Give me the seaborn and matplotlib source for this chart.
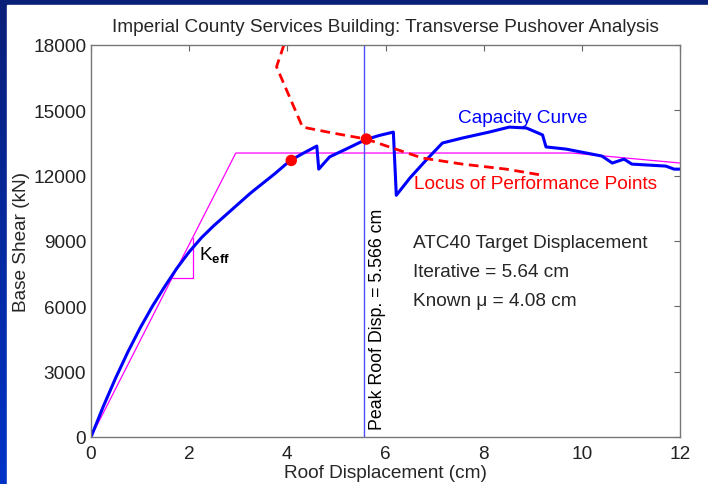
import numpy as np
import pandas as pd
import matplotlib
matplotlib.use("Agg")
import matplotlib.pyplot as plt
from matplotlib.patches import Rectangle
import seaborn as sns

# capacity (pushover) curve
cap_x = [0, 0.25, 0.5, 0.75, 1.0, 1.25, 1.5, 1.75, 2.0, 2.25, 2.5, 2.75, 3.0, 3.25,
         3.5, 3.75, 4.05, 4.3, 4.6, 4.64, 4.86, 5.27, 5.6, 5.88, 6.16, 6.22, 6.5,
         6.83, 7.16, 7.57, 8.11, 8.52, 8.87, 9.2, 9.27, 9.68, 10.09, 10.41, 10.62,
         10.86, 11.02, 11.71, 11.88, 12.0]
cap_y = [0, 1400, 2700, 3900, 5000, 6000, 6900, 7750, 8500, 9150, 9700, 10200, 10700, 11200,
         11650, 12100, 12680, 13000, 13360, 12300, 12860, 13300, 13660, 13850, 14000, 11100, 11900,
         12720, 13500, 13730, 14000, 14230, 14190, 13870, 13320, 13220, 13040, 12900, 12580,
         12760, 12530, 12440, 12300, 12300]

# locus of performance points
locus_x = [3.93, 3.78, 4.31, 4.92, 5.61, 6.14, 6.75, 7.57, 8.46, 9.17]
locus_y = [18000, 17000, 14230, 13960, 13680, 13270, 12810, 12530, 12300, 12030]

# bilinear idealisation and K_eff slope triangle
bil_x = [0, 2.95, 9.8, 12]
bil_y = [0, 13040, 13040, 12580]
tri_x = [1.65, 2.07, 2.07]
tri_y = [7300, 7300, 9150]

# performance points
pp_x = [4.08, 5.61]
pp_y = [12700, 13680]

peak_disp = 5.566

sns.set_theme(style="white")
plt.rcParams['font.family'] = ['Liberation Sans', 'DejaVu Sans']
plt.rcParams['mathtext.fontset'] = 'custom'
plt.rcParams['mathtext.rm'] = 'Liberation Sans'
plt.rcParams['mathtext.it'] = 'Liberation Sans:italic'
plt.rcParams['mathtext.bf'] = 'Liberation Sans:bold'

fs = 13.7

fig = plt.figure(figsize=(7.08, 4.85), dpi=100)

# slide-like background
bg = fig.add_axes([0, 0, 1, 1])
grad = np.linspace(0, 1, 256).reshape(-1, 1)
bg.imshow(grad, aspect='auto', extent=[0, 1, 0, 1],
          cmap=matplotlib.colors.LinearSegmentedColormap.from_list('bg', ['#0033c8', '#0a1f78']),
          origin='lower')
bg.add_patch(Rectangle((7 / 708, 0), 1, 1 - 6 / 485, color='white'))
bg.set_xlim(0, 1)
bg.set_ylim(0, 1)
bg.axis('off')

ax = fig.add_axes([91 / 708, (485 - 438) / 485, 589 / 708, 392 / 485])

sns.lineplot(x=bil_x, y=bil_y, sort=False, estimator=None, color='#ff00ff', lw=0.9, ax=ax)
sns.lineplot(x=tri_x, y=tri_y, sort=False, estimator=None, color='#ff00ff', lw=0.9, ax=ax)
ax.axvline(peak_disp, color='#4d4dff', lw=1.0)
sns.lineplot(x=cap_x, y=cap_y, sort=False, estimator=None, color='#0000ff', lw=2.2, ax=ax)
sns.lineplot(x=locus_x, y=locus_y, sort=False, estimator=None, color='#ff0000', lw=2.0, ax=ax)
ax.lines[-1].set_dashes((3.5, 2))
sns.scatterplot(x=pp_x, y=pp_y, color='#ff0000', s=68, edgecolor='none', zorder=5, ax=ax)

ax.set_xlim(0, 12)
ax.set_ylim(0, 18000)
ax.set_xticks(range(0, 13, 2))
ax.set_yticks(range(0, 18001, 3000))
ax.tick_params(direction='in', length=4, width=0.8, top=True, right=True,
               labelsize=fs, colors='#222222', color='#666666')
ax.tick_params(axis='x', pad=5.5)
ax.tick_params(axis='y', pad=3.5)
for s in ax.spines.values():
    s.set_color('#777777')
    s.set_linewidth(1.0)
ax.set_xlabel('Roof Displacement (cm)', fontsize=fs, labelpad=2)
ax.set_ylabel('Base Shear (kN)', fontsize=fs, labelpad=2)
ax.set_title('Imperial County Services Building: Transverse Pushover Analysis',
             fontsize=fs, pad=10)

ax.text(peak_disp + 0.1, 370, 'Peak Roof Disp. = 5.566 cm', rotation=90,
        ha='left', va='bottom', fontsize=12.8, color='black')
ax.text(7.48, 14690, 'Capacity Curve', color='#0000ff', fontsize=fs, va='center')
ax.text(6.59, 11620, 'Locus of Performance Points', color='#ff0000', fontsize=fs, va='center')
ax.text(2.2, 8170, r'K$_{\mathbf{eff}}$', color='black', fontsize=fs, va='baseline')
ax.text(6.57, 8950, 'ATC40 Target Displacement', fontsize=fs, va='center')
ax.text(6.57, 7620, 'Iterative = 5.64 cm', fontsize=fs, va='center')
ax.text(6.57, 6290, 'Known μ = 4.08 cm', fontsize=fs, va='center')

fig.savefig('out.png', dpi=100)
